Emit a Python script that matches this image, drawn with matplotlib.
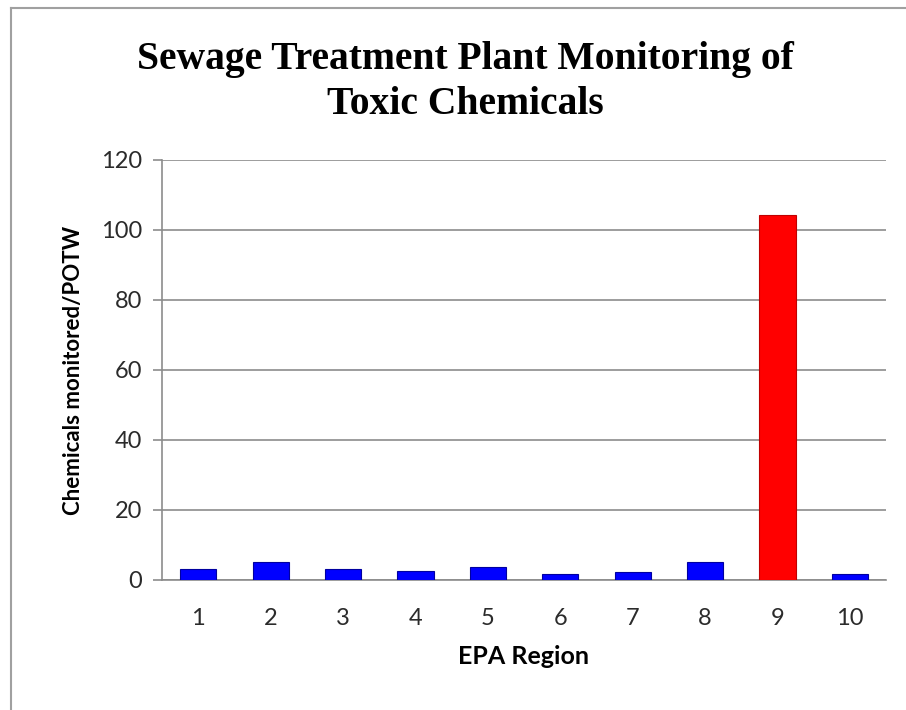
import matplotlib.pyplot as plt
from matplotlib.lines import Line2D

regions = ["1", "2", "3", "4", "5", "6", "7", "8", "9", "10"]
chemicals_per_potw = [3.1, 5.1, 3.1, 2.7, 3.6, 1.7, 2.2, 5.1, 104.3, 1.7]
bar_colors = ["#0000FF"] * 8 + ["#FF0000"] + ["#0000FF"]
edge_colors = ["#0000A0"] * 8 + ["#C00000"] + ["#0000A0"]
y_ticks = [0, 20, 40, 60, 80, 100, 120]

fig = plt.figure(figsize=(9.06, 7.10), dpi=100)
ax = fig.add_axes([162 / 906, 1 - 580 / 710, 724 / 906, 420 / 710])

x = list(range(len(regions)))
ax.bar(x, chemicals_per_potw, width=0.5, color=bar_colors,
       edgecolor=edge_colors, linewidth=0.8, zorder=3)

ax.set_xlim(-0.5, len(regions) - 0.5)
ax.set_ylim(0, 120)
ax.set_yticks(y_ticks)
ax.set_xticks(x)
ax.set_xticklabels(regions)

grid_col = "#8c8c8c"
ax.yaxis.grid(True, color=grid_col, linewidth=1.2, zorder=0)
ax.set_axisbelow(True)
for side in ["top", "right"]:
    ax.spines[side].set_visible(False)
for side in ["left", "bottom"]:
    ax.spines[side].set_color(grid_col)
    ax.spines[side].set_linewidth(1.2)

ax.tick_params(axis="y", direction="out", length=6.5, width=1.2, color=grid_col,
               pad=8, labelsize=17, labelcolor="#2b2b2b")
ax.tick_params(axis="x", length=0, pad=20, labelsize=17, labelcolor="#2b2b2b")
for lab in ax.get_xticklabels() + ax.get_yticklabels():
    lab.set_family("Lato")

ax.set_xlabel("EPA Region", family="Lato", fontweight="bold", fontsize=18, labelpad=12)
ax.set_ylabel("Chemicals monitored/POTW", family="Lato", fontweight="bold",
              fontsize=16, labelpad=12)

fig.text(465 / 906, 1 - 82 / 710, "Sewage Treatment Plant Monitoring of\nToxic Chemicals",
         ha="center", va="center", family="Liberation Serif", fontweight="bold",
         fontsize=28.5, linespacing=1.25)

# outer chart border (left and top visible in the reference)
fig.add_artist(Line2D([11 / 906, 11 / 906], [0, 1 - 8 / 710], color="#a0a0a0",
                      linewidth=1.5, transform=fig.transFigure))
fig.add_artist(Line2D([11 / 906, 1], [1 - 8 / 710, 1 - 8 / 710], color="#a0a0a0",
                      linewidth=1.5, transform=fig.transFigure))

fig.savefig("out.png", dpi=100)
